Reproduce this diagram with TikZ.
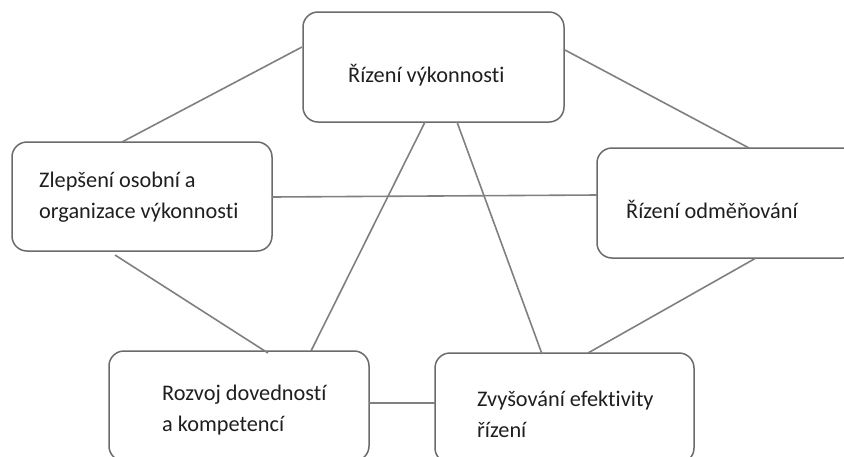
\documentclass[tikz,border=0pt]{standalone}
\usepackage{fontspec}
\setmainfont{Carlito}[Ligatures={NoCommon,NoContextual}]
\begin{document}
\begin{tikzpicture}[x=1pt,y=-1pt,
  box/.style={draw=black!58, line width=1.5pt, rounded corners=15pt, fill=white, minimum width=#1, minimum height=110pt, inner sep=0pt, outer sep=0pt},
  box/.default=260pt,
  lbl/.style={anchor=base west, inner sep=0pt, font=\fontsize{22.3}{31}\selectfont, text=black!88},
  link/.style={draw=black!50, line width=1.6pt}]
\clip (0,0) rectangle (844,456);
\fill[white] (0,0) rectangle (844,456);
\node[box=261pt] (top) at (433.5,67) {};
\node[box, minimum height=109pt] (left) at (142,196.5) {};
\node[box] (right) at (727,203) {};
\node[box] (dev) at (239,406) {};
\node[box=259pt] (eff) at (564.5,408) {};
% connectors
\draw[link] ([shift={(-1,-20)}]top.west) -- ([xshift=-20pt]left.north);
\draw[link] ([shift={(1,-17)}]top.east) -- ([xshift=22pt]right.north);
\draw[link] ([yshift=-0.5pt]left.east) -- ([yshift=8pt]right.west);
\draw[link] ([xshift=-8.5pt]top.south) -- ([xshift=72pt]dev.north);
\draw[link] ([xshift=23.5pt]top.south) -- ([xshift=-22.5pt,yshift=-1pt]eff.north);
\draw[link] ([shift={(-27,4)}]left.south) -- ([xshift=29pt,yshift=-2pt]dev.north);
\draw[link] ([xshift=29pt]right.south) -- ([xshift=23.5pt]eff.north);
\draw[link] ([yshift=3pt]dev.east) -- ([yshift=5pt]eff.west);
% labels
\node[lbl] (t1) at (348,82) {Řízení výkonnosti};
\node[lbl] (l1) at (39,187) {Zlepšení osobní a};
\node[lbl] (l2) at (39,218) {organizace výkonnosti};
\node[lbl] (r1) at (626,218) {Řízení odměňování};
\node[lbl] (d1) at (162,400) {Rozvoj dovedností};
\node[lbl] (d2) at (162,431) {a kompetencí};
\node[lbl] (e1) at (477,406) {Zvyšování efektivity};
\node[lbl] (e2) at (477,437) {řízení};
\end{tikzpicture}
\end{document}
